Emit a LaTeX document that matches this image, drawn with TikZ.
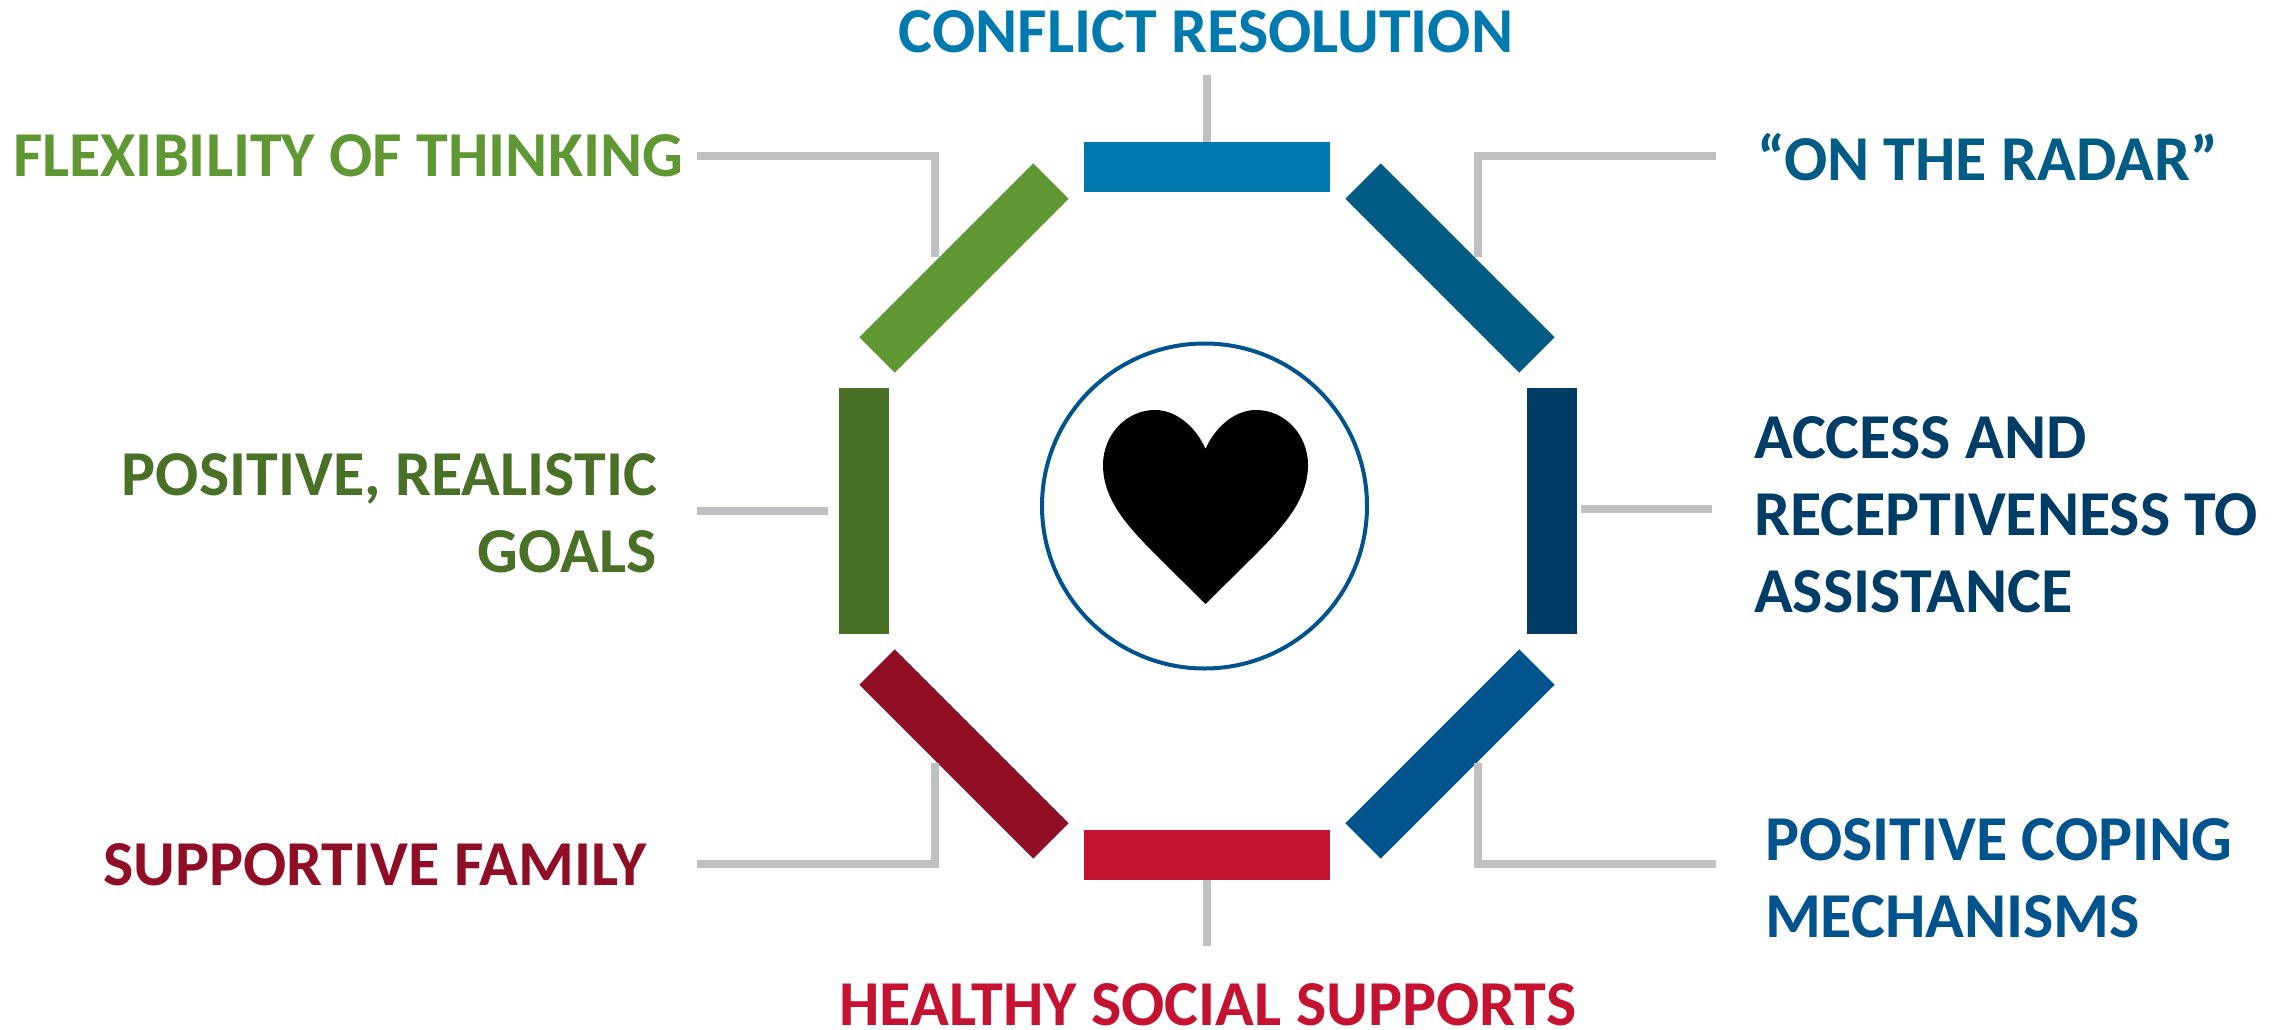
\documentclass[tikz,border=0pt]{standalone}
\usepackage{fontspec}
\setmainfont{Carlito}
\definecolor{cTop}{HTML}{0079AF}
\definecolor{cNE}{HTML}{005C85}
\definecolor{cRight}{HTML}{003D66}
\definecolor{cSE}{HTML}{00538C}
\definecolor{cBot}{HTML}{C41230}
\definecolor{cSW}{HTML}{8F0D25}
\definecolor{cLeft}{HTML}{487026}
\definecolor{cNW}{HTML}{5F9732}
\definecolor{cGrey}{HTML}{BFC0C2}
\tikzset{
  barbox/.style={rectangle,inner sep=0pt,outer sep=0pt,minimum width=246pt,minimum height=50pt,fill=#1},
  lbl/.style={inner sep=0pt,outer sep=0pt,text=#1,font=\fontsize{64}{77}\selectfont\bfseries},
  conn/.style={draw=cGrey,line width=8pt}
}
\begin{document}
\begin{tikzpicture}[x=1pt,y=-1pt]
\useasboundingbox (0,0) rectangle (2283,1029);
% bars
\node[barbox=cTop] (barT) at (1207,167) {};
\node[barbox=cBot] (barB) at (1207,854.5) {};
\node[barbox=cLeft,rotate=90] (barL) at (863.5,510.5) {};
\node[barbox=cRight,rotate=90] (barR) at (1551.5,510.5) {};
\node[barbox=cNE,rotate=-45] (barNE) at (1450,268) {};
\node[barbox=cNW,rotate=45] (barNW) at (964,268) {};
\node[barbox=cSE,rotate=45] (barSE) at (1450,754) {};
\node[barbox=cSW,rotate=-45] (barSW) at (964,754) {};
% circle and heart
\node[circle,draw=cSE,line width=4pt,minimum size=325pt,inner sep=0pt] (ring) at (1204.5,506) {};
\fill[black] (1205.5,449) .. controls (1213,431) and (1232,410) .. (1256,410)
  .. controls (1285,410) and (1308,435) .. (1308,465)
  .. controls (1308,500) and (1283,527) .. (1253,557)
  -- (1205.5,604) -- (1158,557)
  .. controls (1128,527) and (1103,500) .. (1103,465)
  .. controls (1103,435) and (1126,410) .. (1155,410)
  .. controls (1179,410) and (1198,431) .. (1205.5,449) -- cycle;
% labels
\node[lbl=cTop,anchor=base] (tT) at (1206,52) {CONFLICT RESOLUTION};
\node[lbl=cNW,anchor=base west] (tNW) at (13,176) {FLEXIBILITY OF THINKING};
\node[lbl=cNE,anchor=base west] (tNE) at (1757,180) {“ON THE RADAR”};
\node[lbl=cRight,anchor=west,align=left] (tR) at (1754,515) {ACCESS AND\\RECEPTIVENESS TO\\ASSISTANCE};
\node[lbl=cLeft,anchor=east,align=right] (tL) at (657,513) {POSITIVE, REALISTIC\\GOALS};
\node[lbl=cSW,anchor=base west] (tSW) at (103,885) {SUPPORTIVE FAMILY};
\node[lbl=cBot,anchor=base] (tB) at (1208,1025.5) {HEALTHY SOCIAL SUPPORTS};
\node[lbl=cSE,anchor=west,align=left] (tSE) at (1765,878) {POSITIVE COPING\\MECHANISMS};
% connector ends
\coordinate (aT) at (1207,75);
\coordinate (aB) at (1207,946);
\coordinate (aNE) at (1716,156);
\coordinate (bNE) at (1478,257);
\coordinate (aNW) at (697,156);
\coordinate (bNW) at (935,257);
\coordinate (aL) at (697,511);
\coordinate (bL) at (828,511);
\coordinate (aR) at (1712,509);
\coordinate (bR) at (1581,509);
\coordinate (aSE) at (1716,864);
\coordinate (bSE) at (1478,763);
\coordinate (aSW) at (697,864);
\coordinate (bSW) at (935,763);
\draw[conn] (aT) -- (barT.north);
\draw[conn] (aB) -- (barB.south);
\draw[conn] (aNE) -| (bNE);
\draw[conn] (aNW) -| (bNW);
\draw[conn] (aL) -- (bL);
\draw[conn] (aR) -- (bR);
\draw[conn] (aSE) -| (bSE);
\draw[conn] (aSW) -| (bSW);
\end{tikzpicture}
\end{document}
